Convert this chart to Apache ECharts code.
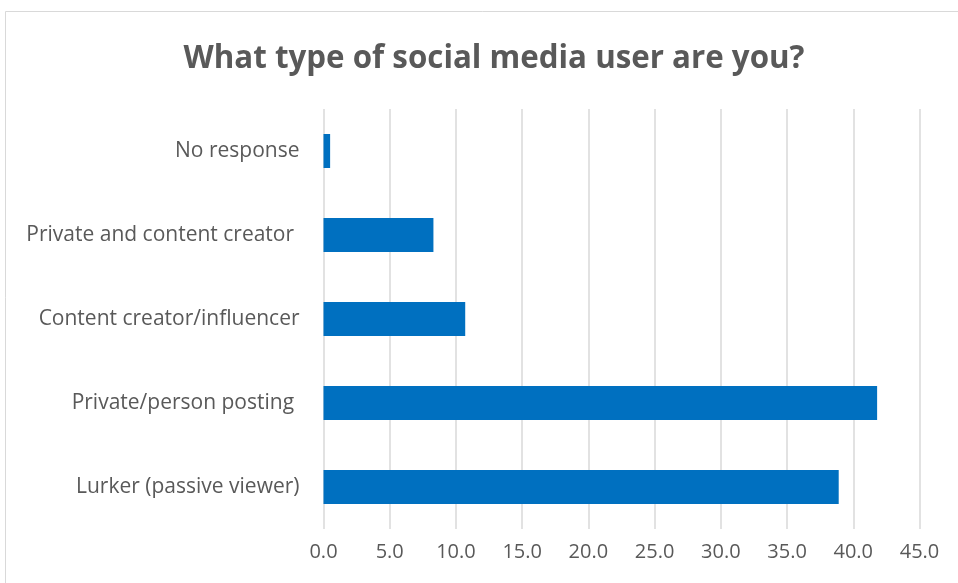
<!DOCTYPE html>
<html>
<head>
<meta charset="utf-8">
<script src="https://cdn.jsdelivr.net/npm/echarts@6/dist/echarts.min.js"></script>
<style>html,body{margin:0;padding:0;background:#fff;}#c{width:958px;height:583px;}</style>
</head>
<body>
<div id="c"></div>
<script>
const categories = ["Lurker (passive viewer)", "Private/person posting ", "Content creator/influencer", "Private and content creator ", "No response"];
const values = [38.9, 41.8, 10.7, 8.3, 0.5];
const xMin = 0, xMax = 45, xStep = 5;
const titleText = "What type of social media user are you?";
const FONT = '"Open Sans"';

const chart = echarts.init(document.getElementById('c'));
chart.setOption({
  animation: false,
  backgroundColor: '#ffffff',
  graphic: [{
    type: 'rect', shape: {x: 5.5, y: 11.5, width: 1000, height: 700},
    style: {fill: 'none', stroke: '#d9d9d9', lineWidth: 1}, silent: true
  }],
  title: {
    text: titleText, left: 489, top: 37, textAlign: 'center',
    textStyle: {fontFamily: FONT, fontWeight: 'bold', fontSize: 31.3, lineHeight: 34, color: '#595959'}
  },
  grid: {left: 323.5, right: 958 - 919.5, top: 109, bottom: 583 - 529, containLabel: false},
  xAxis: {
    type: 'value', min: xMin, max: xMax, interval: xStep,
    axisLine: {show: false}, axisTick: {show: false},
    splitLine: {show: true, lineStyle: {color: '#d9d9d9', width: 1.5}},
    axisLabel: {formatter: v => v.toFixed(1), color: '#595959', fontFamily: FONT, fontSize: 20, margin: 13}
  },
  yAxis: {
    type: 'category', data: categories,
    axisLine: {show: false}, axisTick: {show: false},
    axisLabel: {color: '#595959', fontFamily: FONT, fontSize: 21, margin: 24}
  },
  series: [{
    type: 'bar', data: values, barWidth: 34,
    itemStyle: {color: '#0070C0'}
  }]
});
</script>
</body>
</html>
